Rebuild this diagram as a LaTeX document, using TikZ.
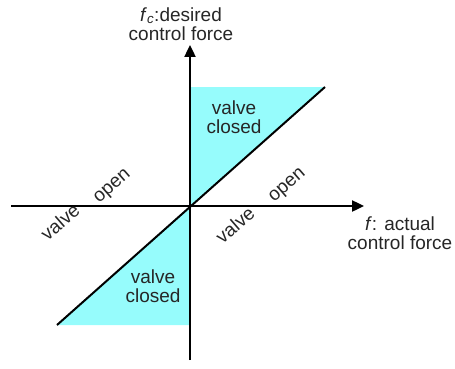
\documentclass[tikz,border=0pt]{standalone}
\usepackage{fontspec}
\setmainfont{Liberation Sans}
\usetikzlibrary{arrows.meta}
\definecolor{valvecyan}{RGB}{150,252,252}
\begin{document}
\begin{tikzpicture}[x=1pt,y=-1pt,
  axis/.style={line width=2.4pt,-{Triangle[length=12pt,width=11pt]}},
  diag/.style={line width=2pt},
  lbl/.style={inner sep=0pt,align=center,font=\fontsize{19}{19.5}\selectfont,text=black!85},
  rlbl/.style={lbl,rotate=41}]
\useasboundingbox (0,0) rectangle (455,369);
\coordinate (O) at (190,206);
\coordinate (xl) at (11,206);
\coordinate (xr) at (364,206);
\coordinate (yb) at (190,360);
\coordinate (yt) at (190,45);
\coordinate (ut) at (190,87);
\coordinate (ur) at (325,87);
\coordinate (lb) at (190,325);
\coordinate (ll) at (57,325);
\fill[valvecyan] (O) -- (ut) -- (ur) -- cycle;
\fill[valvecyan] (O) -- (lb) -- (ll) -- cycle;
\draw[diag] (ll) -- (ur);
\draw[axis] (xl) -- (xr);
\draw[axis] (yb) -- (yt);
\node[lbl] (ytitle) at (181,24) {\textit{f}\textsubscript{\textit{c}}:desired\\control force};
\node[lbl] (xtitle) at (400,233) {\textit{f}: actual\\control force};
\node[lbl] (uc) at (234,117) {valve\\closed};
\node[lbl] (lc) at (153,286) {valve\\closed};
\node[rlbl] (lo) at (113,187) {open};
\node[rlbl] (lv) at (60,222) {valve};
\node[rlbl] (ro) at (288,186) {open};
\node[rlbl] (rv) at (235,225) {valve};
\end{tikzpicture}
\end{document}
